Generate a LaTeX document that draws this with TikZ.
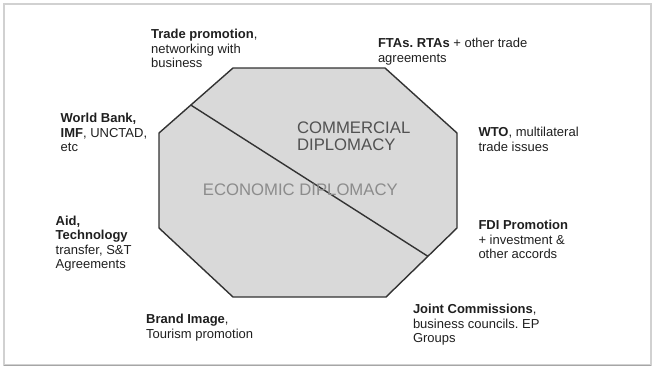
\documentclass[tikz,border=0pt]{standalone}
\usepackage{fontspec}
\setmainfont{Liberation Sans}
\usetikzlibrary{calc}
\frenchspacing

\begin{document}
\begin{tikzpicture}[x=1pt,y=-1pt,
  lbl/.style={anchor=north west,inner sep=0pt,align=left,text=black!88,font=\fontsize{13}{14.5}\selectfont},
  big/.style={inner sep=0pt,align=left,font=\fontsize{16.7}{16.7}\selectfont}]
\useasboundingbox (0,0) rectangle (654,368);
\draw[black!18, line width=1.4pt] (4,4) rectangle (651,365);
\draw[black!35, line width=1.2pt] (4,365.5) -- (651,365.5);
\coordinate (o1) at (233,68); \coordinate (o2) at (385,68); \coordinate (o3) at (457,133); \coordinate (o4) at (457,228);
\coordinate (o5) at (386,297); \coordinate (o6) at (233,297); \coordinate (o7) at (159,228); \coordinate (o8) at (159,133);
\draw[fill=black!15, draw=black!80, line width=1.4pt, line join=round] (o1) -- (o2) -- (o3) -- (o4) -- (o5) -- (o6) -- (o7) -- (o8) -- cycle;
\coordinate (d1) at ($(o1)!0.57!(o8)$); \coordinate (d2) at ($(o4)!0.41!(o5)$);
\draw[black!80, line width=1.4pt] (d1) -- (d2);
\node[big, anchor=north west, text=black!68] (comm) at (296.9,121.5) {COMMERCIAL\\DIPLOMACY};
\node[big, anchor=west, text=black!45] (econ) at (202.7,190) {ECONOMIC DIPLOMACY};
\node[lbl] (trade) at (151,29) {\textbf{Trade promotion},\\networking with\\business};
\node[lbl] (fta) at (377.8,38.3) {\textbf{FTAs. RTAs} + other trade\\agreements};
\node[lbl] (wb) at (60.5,113) {\textbf{World Bank,}\\\textbf{IMF}, UNCTAD,\\etc};
\node[lbl] (wto) at (478.3,127.3) {\textbf{WTO}, multilateral\\trade issues};
\node[lbl] (aid) at (55.5,215.7) {\textbf{Aid,}\\\textbf{Technology}\\transfer, S\&T\\Agreements};
\node[lbl] (fdi) at (478.3,220) {\textbf{FDI Promotion}\\+ investment \&\\other accords};
\node[lbl] (brand) at (146,314) {\textbf{Brand Image},\\Tourism promotion};
\node[lbl] (joint) at (412.8,304) {\textbf{Joint Commissions},\\business councils. EP\\Groups};
\end{tikzpicture}
\end{document}
